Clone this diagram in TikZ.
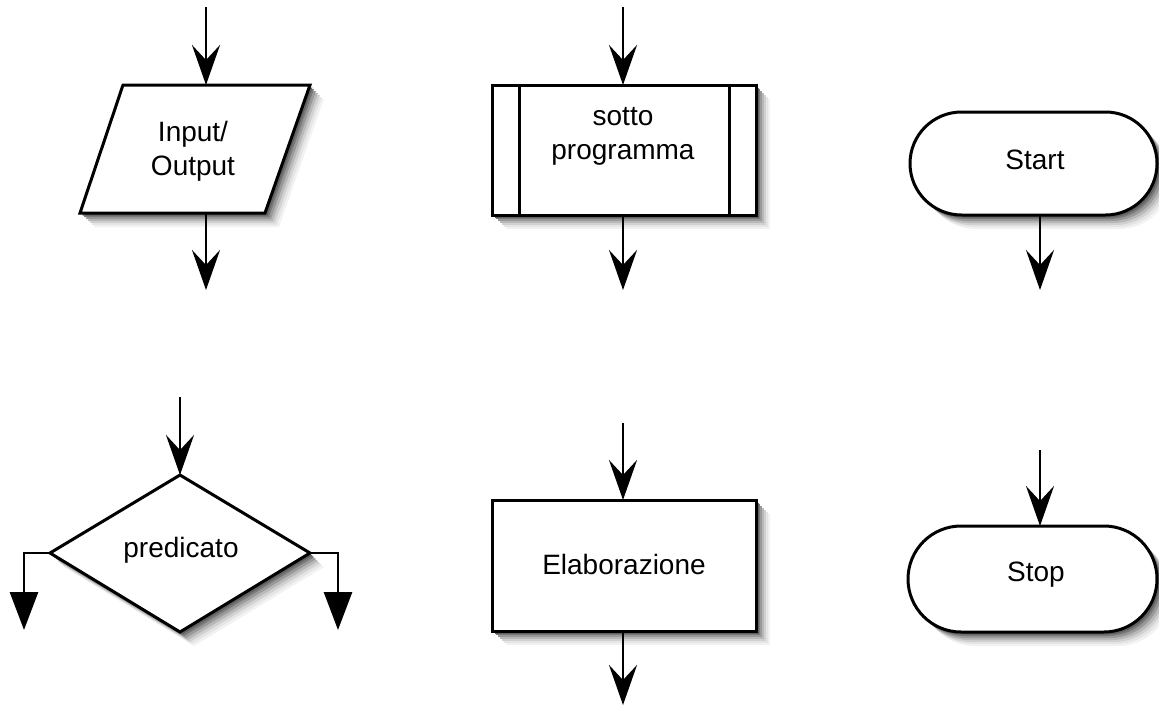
\documentclass[tikz,border=0pt]{standalone}
\usepackage{fontspec}
\setmainfont{Liberation Sans}
\usetikzlibrary{arrows.meta,calc}

% outlines of the flowchart symbols (x to the right, y downwards)
\newcommand{\ioOutline}{(123,85) -- (310,85) -- (265,213) -- (80,213) -- cycle}
\newcommand{\subOutline}{(492,85) rectangle (756,215)}
\newcommand{\startOutline}{[rounded corners=51.5pt] (910,112) rectangle (1157,215)}
\newcommand{\diaOutline}{(180,475) -- (310,553) -- (180,632) -- (50,553) -- cycle}
\newcommand{\elabOutline}{(492,500) rectangle (756,631)}
\newcommand{\stopOutline}{[rounded corners=53pt] (908,526) rectangle (1157,632)}

\begin{document}
\begin{tikzpicture}[x=1pt,y=-1pt,
  shapeline/.style={line width=3pt, draw=black, fill=white, line join=miter},
  flow/.style={line width=2.8pt, draw=black,
    -{Stealth[length=40pt,width=28pt,inset=15pt,fill=black]}},
  branch/.style={line width=2.8pt, draw=black,
    -{Triangle[length=38pt,width=28pt,fill=black]}},
  label/.style={font=\fontsize{28}{34}\selectfont, align=center, inner sep=0pt}]

\useasboundingbox (0,0) rectangle (1159,707);

% ---- soft drop shadows: stacked grey copies, offset down and right
\foreach \o/\g in {14/5, 12/10, 10/18, 8/28, 6/40, 4/52, 2.5/62}{
  \fill[black!\g, shift={(\o,\o)}] \ioOutline;
  \fill[black!\g, shift={(\o,\o)}] \subOutline;
  \fill[black!\g, shift={(\o,\o)}] \startOutline;
  \fill[black!\g, shift={(\o,\o)}] \diaOutline;
  \fill[black!\g, shift={(\o,\o)}] \elabOutline;
  \fill[black!\g, shift={(\o,\o)}] \stopOutline;
}

% ---- symbols
\path[shapeline] \ioOutline;
\path[shapeline] \subOutline;
\draw[line width=3pt] (519,85) -- (519,215);
\draw[line width=3pt] (729,85) -- (729,215);
\path[shapeline] \startOutline;
\path[shapeline] \diaOutline;
\path[shapeline] \elabOutline;
\path[shapeline] \stopOutline;

% ---- labels
\node[label] (io)    at (193,151)  {Input/\\Output};
\node[label] (sub)   at (623,136)  {sotto\\programma};
\node[label] (start) at (1035,160) {Start};
\node[label] (pred)  at (181,550)  {predicato};
\node[label] (elab)  at (624,564)  {Elaborazione};
\node[label] (stop)  at (1036,575) {Stop};

% ---- connection points
\coordinate (io-in)  at (206,7);   \coordinate (io-n)  at (206,85);
\coordinate (io-s)   at (206,213); \coordinate (io-out) at (206,290);
\coordinate (sub-in) at (623,7);   \coordinate (sub-n) at (623,85);
\coordinate (sub-s)  at (623,215); \coordinate (sub-out) at (623,290);
\coordinate (start-s) at (1040,215); \coordinate (start-out) at (1040,290);
\coordinate (dia-in) at (180,397); \coordinate (dia-n) at (180,475);
\coordinate (dia-w)  at (50,553);  \coordinate (dia-e) at (310,553);
\coordinate (dia-lo) at (24,630);  \coordinate (dia-ro) at (338,630);
\coordinate (elab-in) at (623,423); \coordinate (elab-n) at (623,500);
\coordinate (elab-s) at (623,631); \coordinate (elab-out) at (623,705);
\coordinate (stop-in) at (1040,450); \coordinate (stop-n) at (1040,526);

% ---- connectors
\draw[flow] (io-in) -- (io-n);
\draw[flow] (io-s) -- (io-out);
\draw[flow] (sub-in) -- (sub-n);
\draw[flow] (sub-s) -- (sub-out);
\draw[flow] (start-s) -- (start-out);
\draw[flow] (dia-in) -- (dia-n);
\draw[branch] (dia-w) -| (dia-lo);
\draw[branch] (dia-e) -| (dia-ro);
\draw[flow] (elab-in) -- (elab-n);
\draw[flow] (elab-s) -- (elab-out);
\draw[flow] (stop-in) -- (stop-n);
\end{tikzpicture}
\end{document}
